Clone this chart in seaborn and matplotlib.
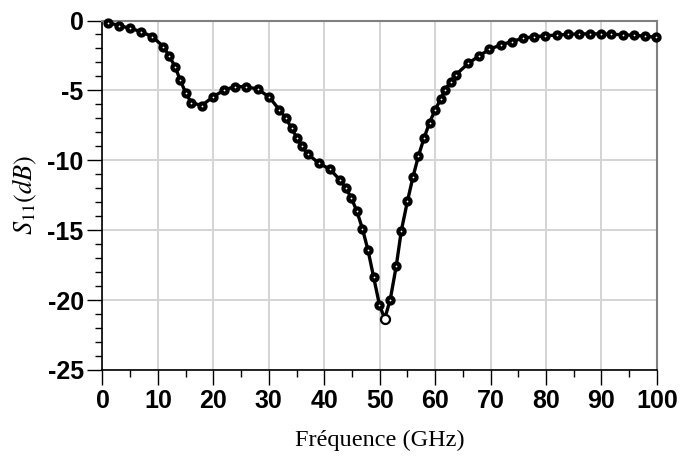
import matplotlib
matplotlib.use("Agg")
import matplotlib.pyplot as plt
import seaborn as sns
import numpy as np
import pandas as pd
from matplotlib.ticker import MultipleLocator

freq_ghz = [1.0, 3.0, 5.0, 7.0, 9.0, 11.0, 12.0, 13.1, 14.0, 15.0, 16.0, 17.9,
            20.0, 22.0, 23.9, 25.9, 28.0, 30.1, 31.9, 33.1, 34.1, 35.1, 36.0, 37.0,
            39.0, 41.0, 42.8, 43.9, 44.9, 45.9, 46.9, 47.9, 48.9, 49.95, 50.9, 51.9,
            53.0, 53.9, 55.0, 56.0, 57.0, 58.0, 59.0, 60.0, 61.0, 61.8, 62.8, 63.7,
            66.0, 67.9, 69.8, 71.8, 73.8, 75.8, 77.8, 79.9, 81.9, 84.0, 86.0, 88.0,
            89.9, 91.8, 93.8, 95.8, 97.8, 99.8]
s11_db = [-0.15, -0.36, -0.56, -0.80, -1.16, -1.87, -2.52, -3.30, -4.25, -5.16, -5.87, -6.08,
          -5.45, -4.96, -4.73, -4.73, -4.91, -5.48, -6.39, -6.99, -7.70, -8.41, -9.01, -9.54,
          -10.20, -10.63, -11.39, -11.99, -12.70, -13.66, -14.91, -16.44, -18.34, -20.32, -21.34, -19.98,
          -17.54, -15.04, -12.94, -11.20, -9.68, -8.41, -7.30, -6.39, -5.63, -4.96, -4.37, -3.89,
          -3.06, -2.54, -2.06, -1.75, -1.51, -1.27, -1.16, -1.09, -1.04, -0.99, -0.96, -0.95,
          -0.96, -0.99, -1.01, -1.06, -1.11, -1.20]
x_ticks = [0, 10, 20, 30, 40, 50, 60, 70, 80, 90, 100]
y_ticks = [0, -5, -10, -15, -20, -25]
x_label = "Fréquence (GHz)"
y_label = r"$S_{11}(dB)$"

df = pd.DataFrame({"f": freq_ghz, "s11": s11_db})
imin = int(np.argmin(s11_db))

sns.set_style("white")
plt.rcParams["mathtext.fontset"] = "stix"
plt.rcParams["axes.unicode_minus"] = False

fig = plt.figure(figsize=(6.8, 4.61), dpi=100)
ax = fig.add_axes([0.1507, 0.1974, 0.8153, 0.7581])

sns.lineplot(data=df, x="f", y="s11", ax=ax, sort=False, color="black",
             linewidth=2.4, marker="o", markersize=4.4, markerfacecolor="white",
             markeredgecolor="black", markeredgewidth=3.0, zorder=3, clip_on=False)
ax.plot([freq_ghz[imin]], [s11_db[imin]], marker="o", linestyle="none",
        markersize=6.5, markerfacecolor="white", markeredgecolor="black",
        markeredgewidth=1.6, zorder=4)

ax.set_xlim(0, 100)
ax.set_ylim(-25, 0)
ax.set_xticks(x_ticks)
ax.set_yticks(y_ticks)
ax.xaxis.set_minor_locator(MultipleLocator(5))
ax.yaxis.set_minor_locator(MultipleLocator(1))

ax.grid(True, which="major", color="#d4d4d4", linewidth=1.4)
ax.set_axisbelow(True)

for side in ["top", "right"]:
    ax.spines[side].set_color("#808080")
    ax.spines[side].set_linewidth(1.5)
for side in ["left", "bottom"]:
    ax.spines[side].set_color("black")
    ax.spines[side].set_linewidth(1.2)

ax.tick_params(axis="both", which="major", direction="out", length=10.5, width=1.0,
               color="black", labelcolor="black", pad=3)
ax.tick_params(axis="both", which="minor", direction="out", length=4.8, width=1.0,
               color="black")
ax.tick_params(left=True, bottom=True, which="both")

for lab in ax.get_xticklabels() + ax.get_yticklabels():
    lab.set_fontfamily("Liberation Sans")
    lab.set_fontweight("bold")
    lab.set_fontsize(18)

ax.set_xlabel(x_label, fontfamily="Liberation Serif", fontsize=17.5, labelpad=12,
              color="black")
ax.set_ylabel(y_label, fontsize=19, labelpad=6, color="black")

fig.savefig("out.png", dpi=100)
